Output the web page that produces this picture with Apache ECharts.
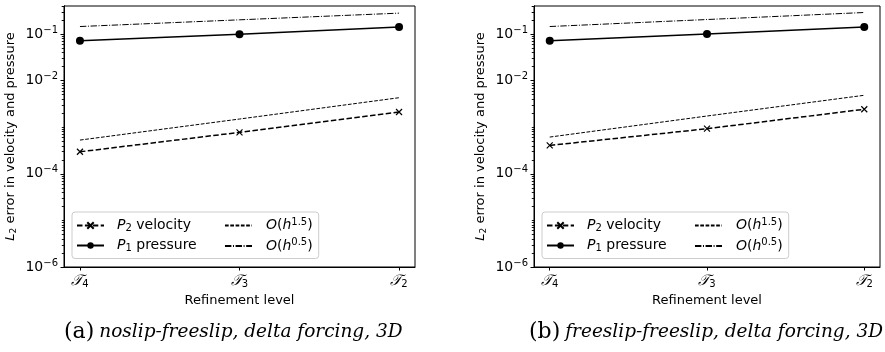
<!DOCTYPE html>
<html><head><meta charset="utf-8">
<script src="https://cdn.jsdelivr.net/npm/echarts@6/dist/echarts.min.js"></script>
<style>html,body{margin:0;padding:0;background:#fff}#c{width:885px;height:352px}</style>
</head><body><div id="c"></div>
<script>
// ---- data ----
const levels = ['𝒯4', '𝒯3', '𝒯2'];
const levelSub = ['4', '3', '2'];
const yTicks = [1e-6, 1e-4, 1e-2, 1e-1];
const captions = ['noslip-freeslip, delta forcing, 3D', 'freeslip-freeslip, delta forcing, 3D'];
const captionTags = ['(a)', '(b)'];
// panel (a)
const velA = [2.97e-4, 7.76e-4, 2.12e-3];
const preA = [0.0715, 0.0995, 0.141];
const o15A = [5.3e-4, 1.5e-3, 4.3e-3];
const o05A = [0.145, 0.202, 0.281];
// panel (b)
const velB = [4.07e-4, 9.3e-4, 2.43e-3];
const preB = [0.0715, 0.100, 0.142];
const o15B = [6.15e-4, 1.74e-3, 4.85e-3];
const o05B = [0.145, 0.205, 0.290];

const names = ['P2 velocity', 'P1 pressure', 'O(h^1.5)', 'O(h^0.5)'];

const FONT = 'DejaVu Sans';
const minorTicks = [];
for (let e = -6; e <= -1; e++) for (let m = 1; m <= 9; m++) {
  const v = m * Math.pow(10, e);
  if (!yTicks.some(t => Math.abs(t - v) / v < 1e-9)) minorTicks.push(v);
}
minorTicks.push(2e-1, 3e-1, 4e-1);

const pts = arr => arr.map((v, i) => [i, v]);
const supRich = {
  b: {fontFamily: FONT, fontSize: 14, color: '#000'},
  s: {fontFamily: FONT, fontSize: 10, color: '#000', padding: [0, 0, 8, 0]}
};
const tRich = {
  t: {fontFamily: 'DejaVu Serif', fontStyle: 'italic', fontSize: 15, color: '#000'},
  n: {fontFamily: FONT, fontSize: 10, color: '#000', padding: [6, 0, 0, 0]}
};

const grids = [
  {left: 64, width: 351, top: 6, height: 261},
  {left: 534, width: 346, top: 6, height: 261}
];
const xAxes = [], yAxes = [], series = [];
const sets = [[velA, preA, o15A, o05A], [velB, preB, o15B, o05B]];
grids.forEach((g, gi) => {
  xAxes.push({
    type: 'value', gridIndex: gi, min: -0.1, max: 2.1,
    axisLine: {onZero: false, lineStyle: {color: '#000', width: 1}},
    axisTick: {customValues: [0, 1, 2], length: 3.5, lineStyle: {color: '#000'}},
    axisLabel: {customValues: [0, 1, 2], margin: 6,
      formatter: v => '{t|𝒯}{n|' + levelSub[Math.round(v)] + '}', rich: tRich},
    splitLine: {show: false},
    name: 'Refinement level', nameLocation: 'middle', nameGap: 22,
    nameTextStyle: {fontFamily: FONT, fontSize: 13, color: '#000'}
  });
  yAxes.push({
    type: 'log', gridIndex: gi, min: 1e-6, max: 0.4, logBase: 10, position: 'left',
    axisLine: {show: true, onZero: false, lineStyle: {color: '#000', width: 1}},
    axisTick: {show: true, customValues: yTicks, length: 3.5, lineStyle: {color: '#000'}},
    axisLabel: {customValues: yTicks, margin: 6,
      formatter: v => '{b|10}{s|−' + Math.round(-Math.log10(v)) + '}', rich: supRich},
    splitLine: {show: false},
    name: '{i|L}{sub|2} error in velocity and pressure', nameLocation: 'middle', nameGap: 46, nameRotate: 90,
    nameTextStyle: {fontFamily: FONT, fontSize: 13, color: '#000',
      rich: {i: {fontFamily: FONT, fontStyle: 'italic', fontSize: 13, color: '#000'},
             sub: {fontFamily: FONT, fontSize: 9, color: '#000', padding: [5, 0, 0, 0]}}}
  });
  // minor ticks: a tick-only axis placed on the right side, shifted onto the left frame edge
  yAxes.push({
    type: 'log', gridIndex: gi, min: 1e-6, max: 0.4, logBase: 10, position: 'right', offset: -g.width,
    axisLine: {show: true, onZero: false, lineStyle: {color: '#000', width: 1}},
    axisTick: {show: true, inside: true, customValues: minorTicks, length: 2.2, lineStyle: {color: '#000', width: 0.9}},
    axisLabel: {show: false}, splitLine: {show: false}
  });
  const [vel, pre, o15, o05] = sets[gi];
  const yi = gi * 2;
  series.push({
    name: names[0], type: 'line', xAxisIndex: gi, yAxisIndex: yi, data: pts(vel),
    symbol: 'path://M0,0L10,10M10,0L0,10', symbolSize: 6,
    itemStyle: {color: '#000', borderColor: '#000', borderWidth: 1.2},
    lineStyle: {color: '#000', width: 1.5, type: [5.5, 2.4]}, z: 4
  });
  series.push({
    name: names[1], type: 'line', xAxisIndex: gi, yAxisIndex: yi, data: pts(pre),
    symbol: 'circle', symbolSize: 8,
    itemStyle: {color: '#000'}, lineStyle: {color: '#000', width: 1.5}, z: 4
  });
  series.push({
    name: names[2], type: 'line', xAxisIndex: gi, yAxisIndex: yi, data: pts(o15),
    symbol: 'circle', showSymbol: false, itemStyle: {color: 'rgba(0,0,0,0)', borderWidth: 0},
    lineStyle: {color: '#000', width: 1, type: [3.7, 1.6]}
  });
  series.push({
    name: names[3], type: 'line', xAxisIndex: gi, yAxisIndex: yi, data: pts(o05),
    symbol: 'circle', showSymbol: false, itemStyle: {color: 'rgba(0,0,0,0)', borderWidth: 0},
    lineStyle: {color: '#000', width: 1, type: [6.4, 1.6, 1, 1.6]}
  });
});

const lRich = {
  i: {fontFamily: FONT, fontStyle: 'italic', fontSize: 14, color: '#000'},
  r: {fontFamily: FONT, fontSize: 14, color: '#000'},
  sub: {fontFamily: FONT, fontSize: 10, color: '#000', padding: [6, 0, 0, 0]},
  sup: {fontFamily: FONT, fontSize: 10, color: '#000', padding: [0, 0, 7, 0]},
  gap: {fontFamily: FONT, fontSize: 14}
};
const GAP = '\u00a0\u00a0\u00a0\u00a0\u00a0';
const legendFmt = n => {
  if (n === names[0]) return '{i|P}{sub|2}{r| velocity}{gap|' + GAP + '}';
  if (n === names[1]) return '{i|P}{sub|1}{r| pressure}{gap|' + GAP + '}';
  if (n === names[2]) return '{i|O}{r|(}{i|h}{sup|1.5}{r|)}';
  return '{i|O}{r|(}{i|h}{sup|0.5}{r|)}';
};
const legends = [72, 542].map((left, gi) => ({
  left: left, top: 212, orient: 'vertical', height: 40,
  padding: [5, 6, 5, 4], itemGap: 5, itemWidth: 27, itemHeight: 8,
  backgroundColor: '#fff', borderColor: '#ccc', borderWidth: 1, borderRadius: 3,
  data: names.map((n, k) => ({name: n,
    textStyle: k < 2 ? {padding: [0, 0, 0, 8]} : {padding: [0, 0, 0, 9]}})),
  formatter: legendFmt,
  textStyle: {rich: lRich, fontFamily: FONT, fontSize: 14, color: '#000'},
  selectedMode: false
}));

const titles = [59, 524].map((left, gi) => ({
  left: left, top: 316,
  text: '{a|' + captionTags[gi] + '} {c|' + captions[gi] + '}',
  textStyle: {fontWeight: 'normal', rich: {
    a: {fontFamily: 'DejaVu Serif', fontWeight: 'normal', fontSize: 22, color: '#000'},
    c: {fontFamily: 'DejaVu Serif', fontStyle: 'italic', fontWeight: 'normal', fontSize: 18.5, color: '#000'}
  }}
}));

const chart = echarts.init(document.getElementById('c'), null, {renderer: 'canvas'});
chart.setOption({
  animation: false,
  title: titles,
  legend: legends,
  grid: grids.map(g => Object.assign({show: true, borderColor: '#000', borderWidth: 1, backgroundColor: 'transparent'}, g)),
  xAxis: xAxes, yAxis: yAxes, series: series
});
</script></body></html>
